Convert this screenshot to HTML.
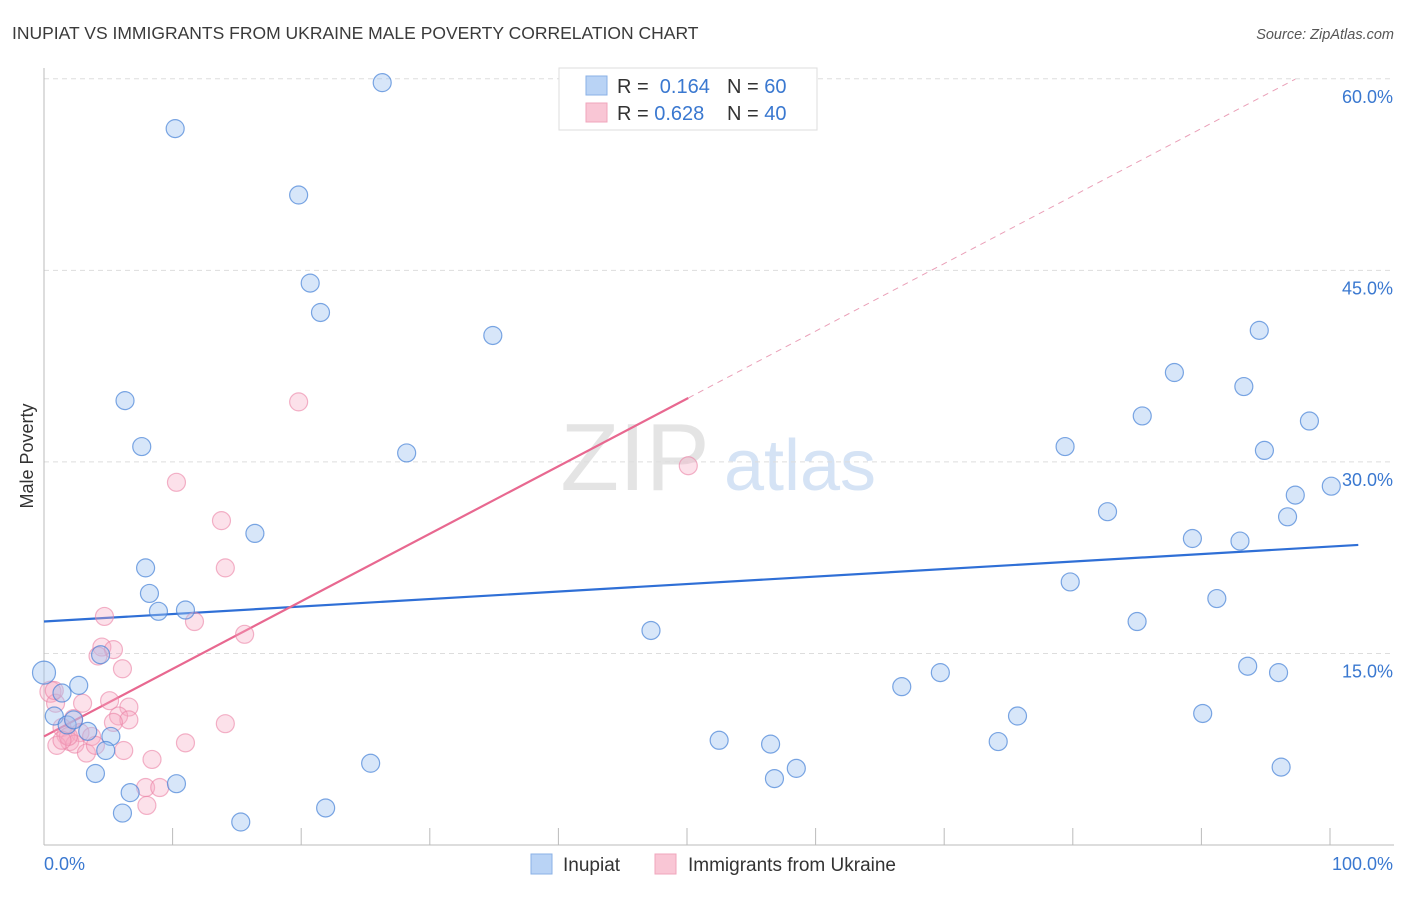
<!DOCTYPE html>
<html><head><meta charset="utf-8"><style>
body{margin:0;background:#fff;font-family:"Liberation Sans",sans-serif;}
svg text{font-family:"Liberation Sans",sans-serif;}
</style></head><body>
<svg id="chart" width="1406" height="892" xmlns="http://www.w3.org/2000/svg">
<text x="12" y="39" font-size="17.5" fill="#3a3a3a">INUPIAT VS IMMIGRANTS FROM UKRAINE MALE POVERTY CORRELATION CHART</text>
<text x="1394" y="39" font-size="14.5" fill="#555" text-anchor="end" font-style="italic">Source: ZipAtlas.com</text>
<text x="33" y="456" font-size="18" fill="#333" text-anchor="middle" transform="rotate(-90 33 456)">Male Poverty</text>
<g><text x="635" y="490" font-size="96" fill="#e4e4e4" text-anchor="middle" font-family="Liberation Serif">ZIP</text><text x="800" y="490" font-size="72" fill="#d5e3f5" text-anchor="middle">atlas</text></g>
<g id="grid"></g><g id="axes"></g><g id="lines"></g><g id="pts"></g>
<g>
<rect x="559" y="68" width="258" height="62" fill="#fff" stroke="#ddd"/>
<rect x="586" y="76" width="21" height="19" fill="#b9d3f5" stroke="#8ab0e6"/>
<rect x="586" y="103" width="21" height="19" fill="#f9c6d5" stroke="#f0a6bc"/>
<text x="617" y="93" font-size="20" fill="#333">R = <tspan fill="#3a78d0">&#160;0.164</tspan></text>
<text x="727" y="93" font-size="20" fill="#333">N = <tspan fill="#3a78d0">60</tspan></text>
<text x="617" y="120" font-size="20" fill="#333">R = <tspan fill="#3a78d0">0.628</tspan></text>
<text x="727" y="120" font-size="20" fill="#333">N = <tspan fill="#3a78d0">40</tspan></text>
</g>
<g>
<rect x="531" y="854" width="21" height="20" fill="#b9d3f5" stroke="#8ab0e6"/>
<text x="563" y="871" font-size="19" fill="#333">Inupiat</text>
<rect x="655" y="854" width="21" height="20" fill="#f9c6d5" stroke="#f0a6bc"/>
<text x="688" y="871" font-size="19" fill="#333">Immigrants from Ukraine</text>
</g>
</svg>
<script>
const yTicks=[15,30,45,60];
const yTickLabels=["15.0%","30.0%","45.0%","60.0%"];
const xTicks=[0,10,20,30,40,50,60,70,80,90,100];
const blueX=[26.3,10.2,19.8,20.7,21.5,34.9,6.3,7.6,28.2,16.4,7.9,8.2,8.9,11.0,4.4,0,1.4,2.7,0.8,1.8,2.3,3.4,5.2,4.8,4.0,6.7,10.3,6.1,15.3,21.9,25.4,47.2,52.5,56.5,56.8,58.5,66.7,69.7,74.2,75.7,79.4,79.8,82.7,85.0,85.4,87.9,89.3,90.1,91.2,93.0,93.3,93.6,94.5,94.9,96.0,96.2,96.7,97.3,98.4,100.1];
const blueY=[59.7,56.1,50.9,44.0,41.7,39.9,34.8,31.2,30.7,24.4,21.7,19.7,18.3,18.4,14.9,13.5,11.9,12.5,10.1,9.4,9.8,8.9,8.5,7.4,5.6,4.1,4.8,2.5,1.8,2.9,6.4,16.8,8.2,7.9,5.2,6.0,12.4,13.5,8.1,10.1,31.2,20.6,26.1,17.5,33.6,37.0,24.0,10.3,19.3,23.8,35.9,14.0,40.3,30.9,13.5,6.1,25.7,27.4,33.2,28.1];
const pinkX=[19.8,10.3,13.8,14.1,4.7,11.7,15.6,4.5,5.4,4.2,6.1,0.5,0.9,3.0,5.1,6.6,5.8,6.6,5.4,2.3,1.4,1.7,2.8,3.7,2.0,1.0,2.4,3.3,6.2,8.4,11.0,14.1,7.9,9.0,8.0,50.1,0.8,1.9,4.0,1.4];
const pinkY=[34.7,28.4,25.4,21.7,17.9,17.5,16.5,15.5,15.3,14.8,13.8,12.0,11.1,11.1,11.3,10.8,10.1,9.8,9.6,9.9,9.2,8.6,8.8,8.5,8.1,7.8,7.9,7.2,7.4,6.7,8.0,9.5,4.5,4.5,3.1,29.7,12.1,8.5,7.8,8.2];
const blueTrend=[17.5,0.0587];
const pinkTrend=[8.5,0.529];
const NS="http://www.w3.org/2000/svg";
const X=v=>44+v*12.86, Y=v=>845-v*12.77;
function mk(p,tag,a){const e=document.createElementNS(NS,tag);for(const k in a)e.setAttribute(k,a[k]);document.getElementById(p).appendChild(e);return e;}
yTicks.forEach((t,i)=>{
 const g=mk('grid','line',{x1:44,x2:1394,y1:Y(t),y2:Y(t),stroke:'#ddd','stroke-dasharray':'5,4'});
 
 
 const l=mk('axes','text',{x:1393,y:Y(t)+24,'font-size':18,fill:'#3a78d0','text-anchor':'end'});l.textContent=yTickLabels[i];
 
 
});
mk('axes','line',{x1:44,x2:44,y1:68,y2:845,stroke:'#bbb'});
mk('axes','line',{x1:44,x2:1394,y1:845,y2:845,stroke:'#bbb'});
xTicks.forEach(t=>{const e=mk('axes','line',{x1:X(t),x2:X(t),y1:828,y2:845,stroke:'#bbb'});
 
 });
let a=mk('axes','text',{x:44,y:870,'font-size':18,fill:'#3a78d0'});a.textContent='0.0%';


a=mk('axes','text',{x:1393,y:870,'font-size':18,fill:'#3a78d0','text-anchor':'end'});a.textContent='100.0%';


function pt(x,y,r,f,s,n){const c=mk('pts','circle',{cx:X(x),cy:Y(y),r:r,fill:f,stroke:s,'stroke-width':1.2});
 
 }
pinkX.forEach((x,i)=>pt(x,pinkY[i],i==11?10.5:9,'rgba(245,170,195,0.35)','rgba(235,130,165,0.6)','ukraine-point'));
blueX.forEach((x,i)=>pt(x,blueY[i],i==15?11.5:9,'rgba(160,195,240,0.42)','rgba(70,130,215,0.7)','inupiat-point'));
let e=mk('lines','line',{x1:X(0),y1:Y(blueTrend[0]),x2:X(102.2),y2:Y(blueTrend[0]+blueTrend[1]*102.2),stroke:'#2f6fd6','stroke-width':2.2});


e=mk('lines','line',{x1:X(0),y1:Y(pinkTrend[0]),x2:X(50.1),y2:Y(pinkTrend[0]+pinkTrend[1]*50.1),stroke:'#e86890','stroke-width':2.2});


e=mk('lines','line',{x1:X(50.1),y1:Y(pinkTrend[0]+pinkTrend[1]*50.1),x2:X(97.3),y2:Y(pinkTrend[0]+pinkTrend[1]*97.3),stroke:'#eaa0b8','stroke-width':1,'stroke-dasharray':'6,5'});


</script>
</body></html>
